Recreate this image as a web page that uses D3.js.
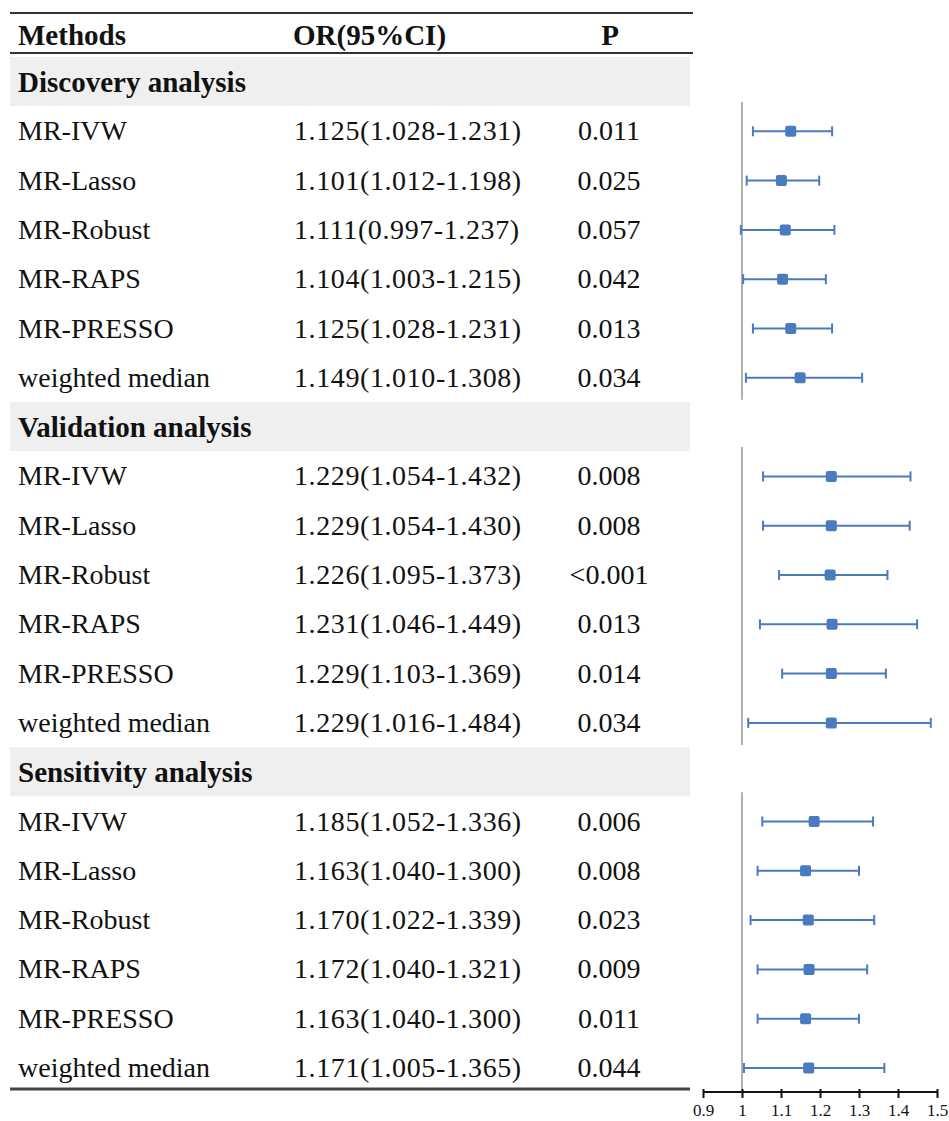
<!DOCTYPE html>
<html><head><meta charset="utf-8">
<script src="https://cdn.jsdelivr.net/npm/d3@7"></script>
<style>body{margin:0;background:#fff}svg{display:block}</style>
</head><body>
<svg id="c" width="949" height="1121"></svg>
<script>
const sections = ["Discovery analysis","Validation analysis","Sensitivity analysis"];
const methods = ["MR-IVW","MR-Lasso","MR-Robust","MR-RAPS","MR-PRESSO","weighted median"];
const orVals = [
  [1.125,1.101,1.111,1.104,1.125,1.149],
  [1.229,1.229,1.226,1.231,1.229,1.229],
  [1.185,1.163,1.170,1.172,1.163,1.171]];
const loVals = [
  [1.028,1.012,0.997,1.003,1.028,1.010],
  [1.054,1.054,1.095,1.046,1.103,1.016],
  [1.052,1.040,1.022,1.040,1.040,1.005]];
const hiVals = [
  [1.231,1.198,1.237,1.215,1.231,1.308],
  [1.432,1.430,1.373,1.449,1.369,1.484],
  [1.336,1.300,1.339,1.321,1.300,1.365]];
const pVals = [
  ["0.011","0.025","0.057","0.042","0.013","0.034"],
  ["0.008","0.008","<0.001","0.013","0.014","0.034"],
  ["0.006","0.008","0.023","0.009","0.011","0.044"]];
const xTicks = [0.9,1,1.1,1.2,1.3,1.4,1.5];

const svg = d3.select("#c");
const font = "'Liberation Serif','Times New Roman',serif";
const rowY = i => 82 + i*49.3;
const x = d3.scaleLinear().domain([0.9,1.5]).range([703,937]);
const f3 = d3.format(".3f");
const blue = "#4a7bbf";

const rows = [];
sections.forEach((s,si)=>{
  rows.push({type:"sec", label:s, si});
  methods.forEach((m,mi)=>{
    rows.push({type:"row", label:m, si, or:orVals[si][mi], lo:loVals[si][mi], hi:hiVals[si][mi], p:pVals[si][mi]});
  });
});
rows.forEach((r,i)=>r.y=rowY(i));

svg.selectAll("rect.band").data(rows.filter(r=>r.type==="sec")).join("rect")
  .attr("x",10).attr("width",680).attr("y",d=>d.y-25).attr("height",49)
  .attr("fill","#efefef");

const hdr = svg.append("g").attr("font-family",font).attr("font-weight","bold").attr("font-size",29).attr("fill","#111");
hdr.append("text").attr("x",18).attr("y",45).text("Methods");
hdr.append("text").attr("x",293).attr("y",45).text("OR(95%CI)");
hdr.append("text").attr("x",610).attr("y",45).attr("text-anchor","middle").text("P");

svg.append("line").attr("x1",10).attr("x2",693).attr("y1",13).attr("y2",13).attr("stroke","#333").attr("stroke-width",2);
svg.append("line").attr("x1",10).attr("x2",693).attr("y1",53).attr("y2",53).attr("stroke","#333").attr("stroke-width",2);
svg.append("line").attr("x1",10).attr("x2",690).attr("y1",1089).attr("y2",1089).attr("stroke","#444").attr("stroke-width",3);

svg.selectAll("text.sec").data(rows.filter(r=>r.type==="sec")).join("text")
  .attr("x",18).attr("y",d=>d.y+10).attr("font-family",font).attr("font-weight","bold")
  .attr("font-size",29).attr("fill","#111").text(d=>d.label);

const data = rows.filter(r=>r.type==="row");
const tg = svg.append("g").attr("font-family",font).attr("font-size",28).attr("fill","#111");
tg.selectAll("text.m").data(data).join("text").attr("x",18).attr("y",d=>d.y+9).text(d=>d.label);
tg.selectAll("text.o").data(data).join("text").attr("x",294).attr("y",d=>d.y+9)
  .attr("letter-spacing","0.6px")
  .text(d=>`${f3(d.or)}(${f3(d.lo)}-${f3(d.hi)})`);
tg.selectAll("text.p").data(data).join("text").attr("x",609).attr("y",d=>d.y+9).attr("text-anchor","middle").text(d=>d.p);

const secRows = rows.filter(r=>r.type==="sec");
secRows.forEach((s,si)=>{
  const y0 = s.y+20;
  const y1 = si===2 ? 1092 : rowY(rows.indexOf(s)+6)+22;
  svg.append("line").attr("x1",x(1)).attr("x2",x(1)).attr("y1",y0).attr("y2",y1)
    .attr("stroke","#b0b0b0").attr("stroke-width",2);
});

const fg = svg.append("g");
fg.selectAll("line.ci").data(data).join("line")
  .attr("x1",d=>x(d.lo)).attr("x2",d=>x(d.hi)).attr("y1",d=>d.y).attr("y2",d=>d.y)
  .attr("stroke",blue).attr("stroke-width",2);
["lo","hi"].forEach(k=>{
  fg.selectAll("line.cap"+k).data(data).join("line")
    .attr("x1",d=>x(d[k])).attr("x2",d=>x(d[k])).attr("y1",d=>d.y-5).attr("y2",d=>d.y+5)
    .attr("stroke",blue).attr("stroke-width",2);
});
fg.selectAll("rect.pt").data(data).join("rect")
  .attr("x",d=>x(d.or)-5.5).attr("y",d=>d.y-5.5).attr("width",11).attr("height",11)
  .attr("rx",2).attr("fill",blue);

const ax = svg.append("g").attr("transform","translate(0,1092)")
  .call(d3.axisBottom(x).tickValues(xTicks).tickSize(6).tickFormat(d3.format("")));
ax.select(".domain").attr("stroke","#111").attr("stroke-width",2).attr("d",`M${x(0.9)},0H${x(1.5)}`);
ax.selectAll(".tick line").attr("stroke","#111").attr("stroke-width",2).attr("y1",-3);
ax.selectAll(".tick text").attr("font-family",font).attr("font-size",17).attr("fill","#111").attr("dy","0.9em");
</script>
</body></html>
